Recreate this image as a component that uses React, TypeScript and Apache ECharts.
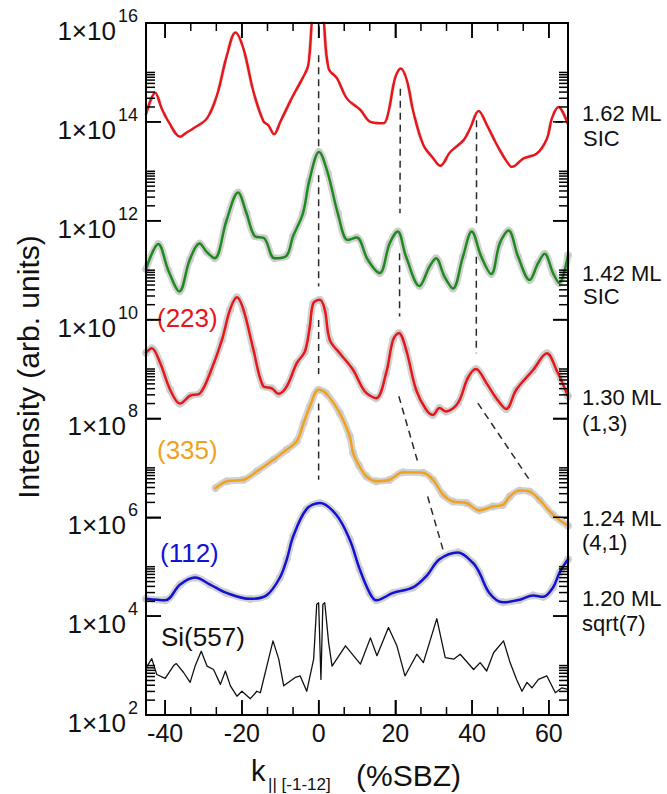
import React, { useEffect, useRef } from 'react';
import * as echarts from 'echarts';

// ---------- axes ----------
const X_MIN = -45;
const X_MAX = 65;
const Y_MIN = 1e2;
const Y_MAX = 1e16;
const X_MAJOR_TICKS = [-40, -20, 0, 20, 40, 60];
const X_MINOR_TICKS = [-33.333, -26.667, -13.333, -6.667, 6.667, 13.333, 26.667, 33.333, 46.667, 53.333];
const Y_MAJOR_TICKS = [1e4, 1e6, 1e8, 1e10, 1e12, 1e14];
const Y_MINOR_DECADES = [2, 4, 6, 8, 10, 12, 14];
const Y_MINOR_MULTS = [2, 3, 4, 5, 6, 7, 8, 9, 10];

// ---------- data: [k (%SBZ), log10(intensity)] ----------
const red162 = [
  [-45, 14.15], [-42.6, 14.59], [-40.9, 14.27], [-39.1, 14.0], [-36.1, 13.7], [-34.5, 13.78], [-32.6, 13.87],
  [-29.1, 14.07], [-26.5, 14.54], [-23.9, 15.35], [-21.7, 15.81], [-19.6, 15.48], [-17.0, 14.61], [-14.4, 14.01],
  [-13.1, 13.93], [-11.6, 13.75], [-10.0, 14.0], [-6.6, 14.54], [-4.0, 14.91], [-2.7, 15.15], [-1.8, 16.0],
  [-0.8, 16.9], [0, 17.2], [0.6, 16.9], [1.4, 16.0], [2.6, 15.08], [4.8, 14.88], [7.4, 14.47], [10.9, 14.24],
  [13.5, 14.0], [16.9, 13.97], [18.2, 14.2], [19.9, 14.88], [21.4, 15.08], [23.0, 14.84], [24.7, 14.2],
  [27.3, 13.53], [29.9, 13.26], [31.7, 13.11], [34.3, 13.39], [37.8, 13.63], [39.5, 13.87], [41.7, 14.22],
  [43.9, 13.93], [46.5, 13.53], [49.1, 13.19], [50.4, 13.09], [53.4, 13.26], [56.9, 13.36], [59.5, 13.66],
  [60.8, 14.07], [62.5, 14.3], [65, 13.95],
];
const green142 = [
  [-45, 11.02], [-41.8, 11.53], [-39.2, 11.0], [-36.3, 10.57], [-33.6, 11.21], [-31.0, 11.54], [-29.2, 11.37],
  [-27.1, 11.24], [-24.0, 12.01], [-21.0, 12.57], [-18.8, 12.15], [-16.7, 11.69], [-14.1, 11.64], [-11.5, 11.24],
  [-8.4, 11.29], [-6.7, 11.68], [-4.1, 12.15], [-2.4, 12.82], [0.1, 13.39], [2.4, 12.96], [5.0, 12.15],
  [7.6, 11.61], [9.9, 11.66], [12.8, 11.21], [15.9, 10.94], [18.5, 11.54], [20.6, 11.78], [22.8, 11.27],
  [26.3, 10.68], [28.9, 11.07], [30.6, 11.24], [32.8, 10.87], [35.0, 10.63], [37.6, 11.27], [39.9, 11.78],
  [42.4, 11.27], [45.0, 10.92], [47.2, 11.54], [49.5, 11.8], [52.0, 11.27], [55.0, 10.8], [57.2, 11.14],
  [58.9, 11.33], [61.1, 10.94], [62.7, 10.74], [65, 11.3],
];
const red130 = [
  [-45, 9.33], [-43.5, 9.42], [-41.3, 9.12], [-38.7, 8.58], [-36.1, 8.3], [-33.5, 8.46], [-30.9, 8.51],
  [-28.3, 8.92], [-25.2, 9.59], [-23.1, 10.2], [-21.3, 10.45], [-19.6, 10.2], [-17.0, 9.39], [-14.5, 8.66],
  [-12.2, 8.61], [-10.5, 8.5], [-8.3, 8.65], [-5.7, 9.12], [-3.6, 9.35], [-2.3, 9.86], [-1.4, 10.33],
  [0.3, 10.4], [1.6, 10.2], [2.9, 9.59], [5.5, 9.32], [9.0, 8.98], [12.0, 8.55], [15.0, 8.41], [17.6, 8.92],
  [19.4, 9.59], [20.9, 9.73], [22.8, 9.39], [25.4, 8.58], [28.0, 8.18], [29.8, 8.07], [31.5, 8.21],
  [33.2, 8.14], [36.3, 8.31], [38.9, 8.82], [41.0, 9.0], [43.7, 8.72], [46.3, 8.41], [48.9, 8.19],
  [51.5, 8.58], [55.9, 8.98], [59.5, 9.32], [62.0, 8.98], [65, 8.45],
];
const orange124 = [
  [-26.9, 6.59], [-23.9, 6.73], [-19.6, 6.76], [-16.1, 6.93], [-11.7, 7.17], [-8.3, 7.37], [-5.7, 7.54],
  [-3.9, 7.91], [-2.3, 8.24], [0, 8.58], [1.9, 8.51], [5.5, 8.11], [8.1, 7.64], [9.0, 7.3], [10.5, 7.05],
  [12.4, 6.83], [15.0, 6.73], [18.5, 6.76], [22.0, 6.91], [27.2, 6.9], [29.8, 6.76], [32.4, 6.46],
  [35.0, 6.32], [38.5, 6.29], [41.9, 6.14], [45.4, 6.22], [48.0, 6.25], [49.8, 6.42], [52.4, 6.54],
  [55.0, 6.52], [57.6, 6.35], [61.1, 6.05], [65, 5.83],
];
const blue120 = [
  [-45, 4.35], [-40.0, 4.32], [-36.1, 4.64], [-32.2, 4.78], [-28.3, 4.64], [-24.0, 4.47], [-17.9, 4.35],
  [-13.6, 4.42], [-10.1, 4.78], [-8.3, 5.15], [-6.6, 5.62], [-3.2, 6.16], [0.3, 6.29], [4.6, 6.05],
  [8.1, 5.55], [10.7, 4.95], [13.3, 4.47], [15.0, 4.32], [19.4, 4.47], [24.6, 4.58], [28.1, 4.81],
  [31.5, 5.15], [36.3, 5.29], [40.2, 5.08], [41.9, 4.88], [44.5, 4.47], [48.0, 4.28], [52.4, 4.33],
  [55.9, 4.42], [58.5, 4.39], [61.1, 4.58], [62.8, 4.88], [65, 5.15],
];
const si557 = [
  [-45, 2.95], [-43.5, 3.14], [-42.2, 2.82], [-40.0, 2.74], [-37.8, 3.0], [-37.1, 3.04], [-35.2, 2.86],
  [-33.5, 2.66], [-32.2, 2.99], [-30.6, 3.29], [-29.1, 2.99], [-27.4, 2.92], [-25.6, 2.62], [-24.3, 2.89],
  [-23.0, 2.59], [-21.3, 2.38], [-20.0, 2.48], [-17.8, 2.33], [-16.1, 2.48], [-15.2, 2.45], [-13.5, 2.99],
  [-11.9, 3.5], [-10.4, 3.13], [-9.1, 2.59], [-6.1, 2.76], [-4.8, 2.79], [-3.1, 2.48], [-1.3, 3.13],
  [-0.5, 4.24], [0, 4.27], [0.6, 2.72], [1.1, 4.24], [1.6, 4.27], [2.6, 3.47], [3.5, 2.99], [7.0, 3.4],
  [10.9, 3.03], [13.5, 3.56], [15.2, 3.2], [18.2, 3.77], [20.4, 3.4], [22.5, 2.79], [25.6, 3.23],
  [27.3, 3.06], [30.8, 3.95], [33.0, 3.16], [35.2, 3.13], [36.9, 3.23], [40.4, 2.92], [42.1, 3.06],
  [43.8, 2.89], [45.6, 3.26], [48.2, 3.5], [49.9, 3.06], [51.6, 2.72], [53.0, 2.48], [54.3, 2.66],
  [55.6, 2.55], [57.3, 2.72], [59.5, 2.79], [61.7, 2.45], [63.4, 2.55], [65, 2.52],
];
// dashed guide segments [k, log10(I)]
const guides = [
  [[0, 15.35], [0, 13.45]],
  [[0, 12.92], [0, 10.67]],
  [[0, 9.99], [0, 8.9]],
  [[0, 8.3], [0, 6.76]],
  [[21.3, 14.67], [21.2, 12.15]],
  [[21.1, 11.34], [21.1, 10.06]],
  [[20.9, 8.45], [25.87, 7.11]],
  [[28.42, 6.42], [32.4, 5.35]],
  [[41.15, 14.03], [41.15, 11.95]],
  [[41.1, 11.27], [41.1, 9.32]],
  [[41.5, 8.31], [55.2, 6.73]],
];

const RED = '#e8161b';
const GREEN = '#1f8a1f';
const ORANGE = '#f0a21e';
const BLUE = '#1212d6';
const GRAY = '#cdcdcd';
const FONT = '"Liberation Sans", Arial, Helvetica, sans-serif';

// plot-area size in pixels (grid) and tick lengths
const GRID = { left: 146, right: 99, top: 23, bottom: 79 };
const CHART_W = 667;
const CHART_H = 794;
const MAJOR_TICK_PX = 15;
const MINOR_TICK_PX_Y = 9;
const MINOR_TICK_PX_X = 8;
const FRAME_PX = 2;
const TICK_PX = 1.5;

const toData = (pts: number[][]) => pts.map(([k, e]) => [k, Math.pow(10, e)]);

function bandSeries(pts: number[][], hollow: boolean) {
  return {
    type: 'line',
    data: toData(pts),
    smooth: 0.35,
    z: 2,
    silent: true,
    showSymbol: true,
    showAllSymbol: true,
    symbol: hollow ? 'emptyCircle' : 'circle',
    symbolSize: hollow ? 9 : 8,
    itemStyle: hollow ? { color: '#ffffff', borderColor: '#b8b8b8', borderWidth: 1.5 } : { color: GRAY },
    lineStyle: { color: hollow ? '#e2e2e2' : '#d3d3d3', width: hollow ? 4 : 7 },
  };
}
function curveSeries(pts: number[][], color: string, width: number, smooth: number | boolean) {
  return {
    type: 'line',
    data: toData(pts),
    smooth,
    z: 3,
    silent: true,
    showSymbol: false,
    symbol: 'none',
    lineStyle: { color, width, cap: 'round', join: 'round' },
  };
}

export default function App() {
  const ref = useRef<HTMLDivElement>(null);
  useEffect(() => {
    document.body.style.margin = '0';
    const chart = echarts.init(ref.current!, undefined, { renderer: 'svg' });

    const commonX = {
      type: 'value',
      min: X_MIN,
      max: X_MAX,
      splitNumber: 5,
      splitLine: { show: false },
      axisLine: { show: true, onZero: false, lineStyle: { color: '#000', width: 2 } },
      axisTick: { show: true, inside: true, length: MAJOR_TICK_PX, lineStyle: { color: '#000', width: 1.5 } },
    };
    const commonY = {
      type: 'log',
      logBase: 10,
      min: Y_MIN,
      max: Y_MAX,
      interval: 2,
      splitLine: { show: false },
      axisLine: { show: true, onZero: false, lineStyle: { color: '#000', width: 2 } },
      axisTick: { show: true, inside: true, length: MAJOR_TICK_PX, lineStyle: { color: '#000', width: 1.5 } },
    };

    const series: any[] = [
      ...guides.map((s) => ({
        type: 'line',
        data: toData(s),
        z: 1,
        silent: true,
        symbol: 'none',
        lineStyle: { color: '#2a2a2a', width: 1.5, type: [7, 5] },
      })),
      bandSeries(red162, true),
      bandSeries(green142, false),
      bandSeries(red130, false),
      bandSeries(orange124, false),
      bandSeries(blue120, false),
      curveSeries(red162, RED, 2.5, 0.35),
      curveSeries(green142, GREEN, 2.5, 0.35),
      curveSeries(red130, RED, 2.5, 0.35),
      curveSeries(orange124, ORANGE, 2.5, 0.35),
      curveSeries(blue120, BLUE, 2.5, 0.35),
      curveSeries(si557, '#111', 1.3, false),
    ];

    chart.setOption({
      animation: false,
      backgroundColor: '#ffffff',
      textStyle: { fontFamily: FONT },
      grid: { ...GRID, containLabel: false },
      xAxis: [
        {
          ...commonX,
          position: 'bottom',
          axisLabel: {
            show: true, showMinLabel: false, showMaxLabel: false,
            color: '#111', fontSize: 25, fontFamily: FONT, margin: 5,
            formatter: (v: number) => (Math.abs(v % 20) < 1e-6 ? String(v) : ''),
          },
        },
        { ...commonX, position: 'top', axisLabel: { show: false } },
      ],
      yAxis: [
        {
          ...commonY,
          position: 'left',
          axisLabel: {
            show: true,
            margin: 8,
            color: '#111',
            fontFamily: FONT,
            formatter: (v: number) => `{b|1×10}{s|${Math.round(Math.log10(v))}}`,
            rich: {
              b: { fontSize: 26, lineHeight: 24, padding: [16, 0, 0, 0], fontFamily: FONT, color: '#111' },
              s: { fontSize: 18, lineHeight: 16, padding: [5, 0, 19, 2], fontFamily: FONT, color: '#111' },
            },
          },
        },
        { ...commonY, position: 'right', axisLabel: { show: false } },
      ],
      series,
    });

    // ---- frame and ticks as filled bars, positioned through the chart's own scales ----
    const L0 = GRID.left;
    const T0 = GRID.top;
    const R0 = CHART_W - GRID.right;
    const B0 = CHART_H - GRID.bottom;
    const safe = (v: any, fb: number) => (typeof v === 'number' && isFinite(v) ? v : fb);
    const plotW = R0 - L0;
    const plotH = B0 - T0;
    const fx = (v: number) =>
      safe(chart.convertToPixel({ xAxisIndex: 0 }, v), L0 + ((v - X_MIN) / (X_MAX - X_MIN)) * plotW);
    const fy = (v: number) =>
      safe(
        chart.convertToPixel({ yAxisIndex: 0 }, v),
        B0 - ((Math.log10(v) - Math.log10(Y_MIN)) / (Math.log10(Y_MAX) - Math.log10(Y_MIN))) * plotH,
      );
    const L = safe(fx(X_MIN), L0);
    const R = safe(fx(X_MAX), R0);
    const T = safe(fy(Y_MAX), T0);
    const B = safe(fy(Y_MIN), B0);

    const g: any[] = [];
    const bar = (x: number, y: number, w: number, h: number) =>
      g.push({ type: 'rect', silent: true, z: 100, shape: { x, y, width: w, height: h }, style: { fill: '#000' } });
    // frame
    bar(L - FRAME_PX / 2, T - FRAME_PX / 2, R - L + FRAME_PX, FRAME_PX);
    bar(L - FRAME_PX / 2, B - FRAME_PX / 2, R - L + FRAME_PX, FRAME_PX);
    bar(L - FRAME_PX / 2, T - FRAME_PX / 2, FRAME_PX, B - T + FRAME_PX);
    bar(R - FRAME_PX / 2, T - FRAME_PX / 2, FRAME_PX, B - T + FRAME_PX);
    // y ticks on left and right
    const yTick = (v: number, len: number) => {
      const y = fy(v);
      bar(L, y - TICK_PX / 2, len, TICK_PX);
      bar(R - len, y - TICK_PX / 2, len, TICK_PX);
    };
    Y_MAJOR_TICKS.forEach((v) => yTick(v, MAJOR_TICK_PX));
    Y_MINOR_DECADES.forEach((d) => Y_MINOR_MULTS.forEach((m) => yTick(m * Math.pow(10, d), MINOR_TICK_PX_Y)));
    // x ticks on bottom and top
    const xTick = (v: number, len: number) => {
      const x = fx(v);
      bar(x - TICK_PX / 2, B - len, TICK_PX, len);
      bar(x - TICK_PX / 2, T, TICK_PX, len);
    };
    X_MAJOR_TICKS.forEach((v) => xTick(v, MAJOR_TICK_PX));
    X_MINOR_TICKS.forEach((v) => xTick(v, MINOR_TICK_PX_X));

    const rightLabels = [
      ['1.62 ML', 582, 113], ['SIC', 583, 138],
      ['1.42 ML', 582, 273], ['SIC', 583, 296],
      ['1.30 ML', 582, 397], ['(1,3)', 582, 423],
      ['1.24 ML', 582, 518], ['(4,1)', 582, 542],
      ['1.20 ML', 582, 598], ['sqrt(7)', 582, 623],
    ];
    const curveLabels = [
      ['(223)', 157, 318, RED],
      ['(335)', 157, 450, ORANGE],
      ['(112)', 160, 553, BLUE],
      ['Si(557)', 161, 637, '#111'],
    ];
    rightLabels.forEach(([t, x, y]) => g.push({
      type: 'text', x, y, silent: true,
      style: { text: t, fill: '#111', fontSize: 22, fontFamily: FONT, align: 'left', verticalAlign: 'middle' },
    }));
    curveLabels.forEach(([t, x, y, c]) => g.push({
      type: 'text', x, y, silent: true, z: 10,
      style: { text: t, fill: c, fontSize: 26, fontFamily: FONT, align: 'left', verticalAlign: 'middle' },
    }));
    g.push(
      {
        type: 'text', x: 28, y: 367, rotation: Math.PI / 2, silent: true,
        style: { text: 'Intensity (arb. units)', fill: '#111', fontSize: 30, fontFamily: FONT, align: 'center', verticalAlign: 'middle' },
      },
      {
        type: 'text', x: 251, y: 771, silent: true,
        style: { text: 'k', fill: '#111', fontSize: 29, fontFamily: FONT, align: 'left', verticalAlign: 'middle' },
      },
      {
        type: 'text', x: 268, y: 784, silent: true,
        style: { text: '|| [-1-12]', fill: '#111', fontSize: 17, fontFamily: FONT, align: 'left', verticalAlign: 'middle' },
      },
      {
        type: 'text', x: 356, y: 775, silent: true,
        style: { text: '(%SBZ)', fill: '#111', fontSize: 30, fontFamily: FONT, align: 'left', verticalAlign: 'middle' },
      },
    );

    chart.setOption({ graphic: g });
    return () => chart.dispose();
  }, []);
  return <div ref={ref} style={{ width: CHART_W, height: CHART_H }} />;
}
